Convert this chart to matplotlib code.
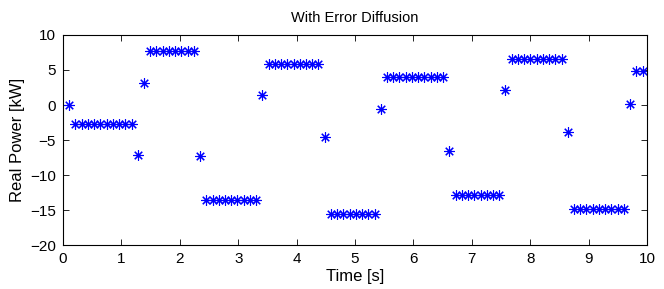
import numpy as np
import matplotlib
matplotlib.use("Agg")
import matplotlib.pyplot as plt

plt.rcParams['font.family'] = ['Liberation Sans', 'DejaVu Sans']

# sample period
dt = 0.1067

# power per sample [kW], in time order
power = ([0.0]
         + [-2.7] * 10
         + [-7.2, 3.1]
         + [7.7] * 8
         + [-7.3]
         + [-13.6] * 9
         + [1.4]
         + [5.9] * 9
         + [-4.5]
         + [-15.6] * 8
         + [-0.6]
         + [4.0] * 10
         + [-6.5]
         + [-12.8] * 8
         + [2.2]
         + [6.6] * 9
         + [-3.8]
         + [-14.9] * 9
         + [0.15]
         + [4.9, 4.9])
time = dt * np.arange(1, len(power) + 1)

fig = plt.figure(figsize=(6.64, 2.89), dpi=100)
ax = fig.add_axes([0.0949, 0.152, 0.8795, 0.727])

ax.plot(time, power, linestyle='none', marker=(8, 2, 0), markersize=7.5,
        markeredgewidth=0.8, color='#0000ff')

ax.set_xlim(0, 10)
ax.set_ylim(-20, 10)
ax.set_xticks(range(0, 11))
ax.set_yticks(range(-20, 11, 5))
ax.tick_params(direction='in', top=True, right=True, length=4, width=0.6,
               labelsize=11, pad=5)
for s in ax.spines.values():
    s.set_linewidth(0.8)

ax.set_title('With Error Diffusion', fontsize=10.5, pad=9)
ax.set_xlabel('Time [s]', fontsize=12, labelpad=2)
ax.set_ylabel('Real Power [kW]', fontsize=12, labelpad=4)

fig.savefig('out.png', dpi=100)
